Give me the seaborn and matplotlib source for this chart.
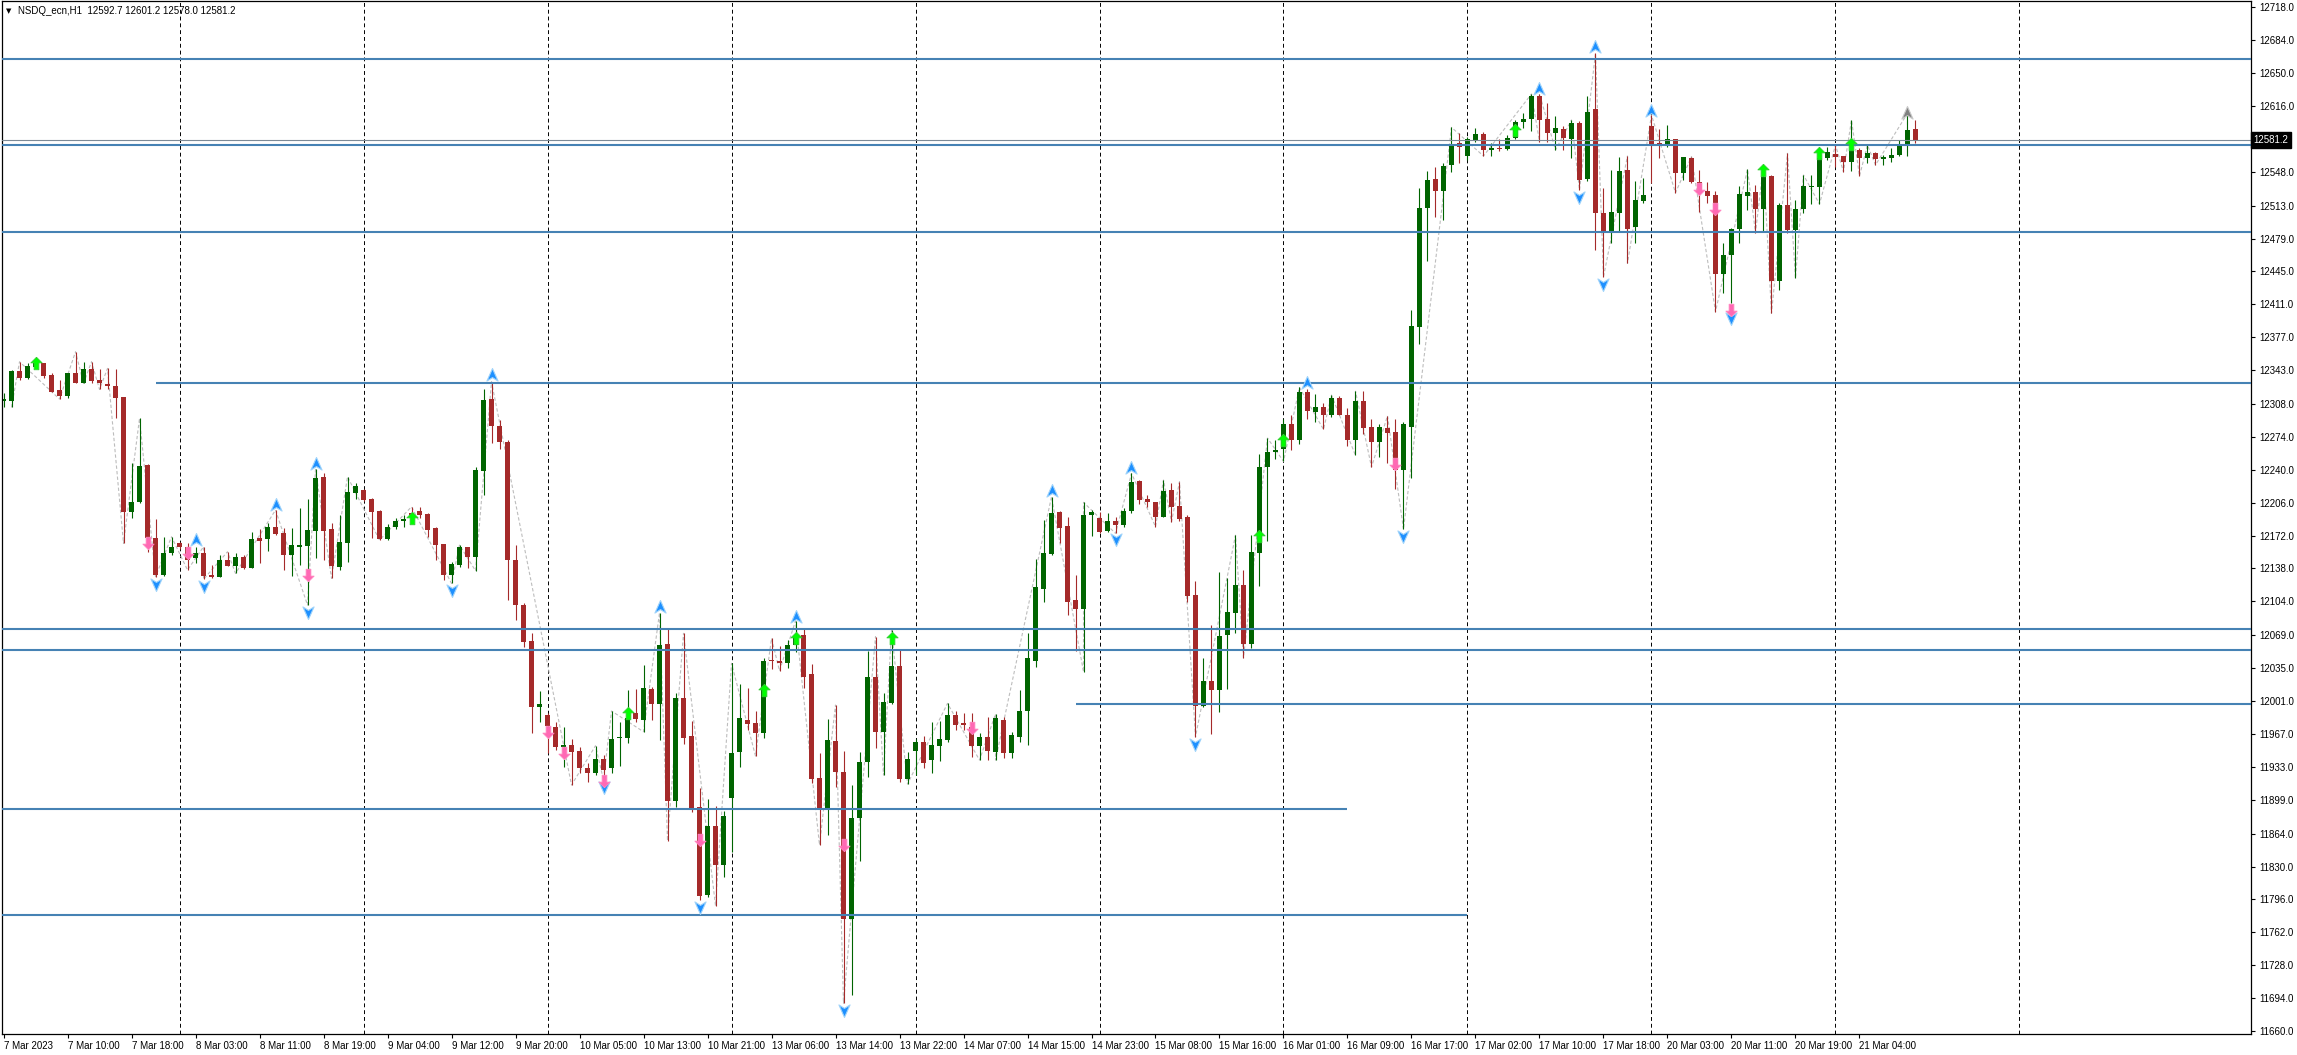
import numpy as np
import pandas as pd
import matplotlib
matplotlib.use("Agg")
import matplotlib.pyplot as plt
from matplotlib.path import Path
from matplotlib.transforms import blended_transform_factory
import seaborn as sns

# NSDQ_ecn H1 bars, 7 Mar 02:00 -> 21 Mar 11:00
opens = [
    12310.8, 12311.4, 12342.0, 12335.2, 12346.5, 12350.0, 12337.9, 12322.4, 12316.6, 12340.3,
    12330.0, 12343.8, 12332.8, 12328.6, 12326.6, 12314.8, 12196.7, 12207.0, 12244.9, 12169.1,
    12131.2, 12154.3, 12163.9, 12160.5, 12149.1, 12153.6, 12131.2, 12129.5, 12146.7, 12140.9,
    12150.2, 12138.8, 12169.1, 12168.1, 12181.2, 12174.3, 12151.9, 12160.5, 12161.2, 12176.7,
    12232.9, 12178.4, 12139.2, 12164.6, 12216.3, 12219.1, 12209.8, 12197.4, 12168.4, 12180.5,
    12187.0, 12195.6, 12197.4, 12193.9, 12179.5, 12162.9, 12131.2, 12141.6, 12159.8, 12150.2,
    12239.0, 12312.8, 12285.6, 12268.7, 12146.7, 12100.2, 12063.0, 11994.5, 11986.5, 11974.5,
    11953.8, 11955.5, 11949.3, 11932.1, 11926.3, 11941.1, 11931.5, 11962.5, 11962.5, 11988.3,
    11981.4, 12013.4, 11997.9, 12059.9, 11898.0, 12004.4, 11965.2, 11891.8, 11800.5, 11871.8,
    11831.5, 11901.1, 11948.6, 11981.4, 11978.0, 11968.3, 12042.7, 12042.4, 12040.0, 12058.9,
    12069.2, 12028.9, 11921.1, 11890.7, 11959.7, 11927.3, 11775.4, 11879.8, 11938.3, 12025.5,
    11969.3, 11999.3, 12037.2, 11920.4, 11949.7, 11958.3, 11940.0, 11954.8, 11960.7, 11986.5,
    11978.0, 11974.5, 11954.5, 11964.1, 11948.6, 11981.4, 11947.6, 11964.1, 11991.0, 12042.7,
    12116.8, 12152.9, 12196.7, 12181.9, 12105.4, 12096.1, 12193.2, 12190.5, 12176.7, 12187.0,
    12182.9, 12197.4, 12228.7, 12209.8, 12206.4, 12191.5, 12219.1, 12202.5, 12191.5, 12110.6,
    11996.2, 12021.7, 12012.4, 12069.0, 12092.0, 12120.9, 12059.7, 12154.3, 12242.8, 12258.1,
    12261.7, 12287.0, 12270.9, 12320.4, 12300.2, 12305.1, 12297.0, 12314.3, 12297.0, 12270.9,
    12311.1, 12284.2, 12268.9, 12283.0, 12278.9, 12240.0, 12284.2, 12387.6, 12510.1, 12540.2,
    12528.4, 12555.0, 12577.4, 12564.3, 12580.1, 12587.0, 12570.5, 12572.2, 12571.2, 12582.6,
    12599.7, 12602.2, 12626.3, 12602.2, 12588.4, 12592.2, 12581.5, 12598.1, 12540.2, 12612.5,
    12505.7, 12485.0, 12505.1, 12549.8, 12490.6, 12517.8, 12595.3, 12578.0, 12575.6, 12581.5,
    12546.4, 12561.9, 12537.7, 12528.4, 12524.0, 12442.3, 12462.0, 12488.8, 12523.2, 12526.8,
    12509.2, 12543.6, 12435.4, 12513.6, 12487.8, 12509.2, 12531.9, 12532.5, 12561.9, 12566.0,
    12564.3, 12558.4, 12570.5, 12561.9, 12567.1, 12561.5, 12562.5, 12565.3, 12575.6, 12592.7,
]
highs = [
    12318.9, 12343.1, 12351.7, 12350.0, 12351.7, 12350.7, 12339.6, 12332.8, 12340.3, 12362.0,
    12351.7, 12351.7, 12343.8, 12344.8, 12343.8, 12315.5, 12246.6, 12293.1, 12245.6, 12188.8,
    12170.8, 12170.8, 12165.7, 12163.9, 12160.5, 12160.5, 12141.6, 12151.9, 12155.3, 12153.6,
    12151.9, 12176.0, 12178.4, 12185.3, 12198.4, 12179.5, 12179.5, 12200.1, 12209.4, 12240.4,
    12237.0, 12185.3, 12193.2, 12232.9, 12226.0, 12219.8, 12210.5, 12198.1, 12183.6, 12189.8,
    12193.2, 12201.8, 12201.8, 12195.0, 12181.2, 12163.6, 12145.0, 12162.2, 12160.5, 12243.2,
    12323.1, 12331.0, 12291.4, 12270.8, 12162.2, 12102.3, 12071.0, 12011.7, 11988.6, 11979.6,
    11974.5, 11961.7, 11953.8, 11936.6, 11954.8, 11945.2, 11990.7, 11979.6, 12012.4, 12013.4,
    12038.2, 12015.5, 12092.3, 12076.2, 12009.0, 12071.0, 11980.3, 11910.8, 11899.4, 11892.5,
    11887.3, 12040.0, 12018.6, 12014.1, 11990.7, 12045.1, 12065.8, 12057.9, 12064.1, 12083.7,
    12075.1, 12039.3, 11947.0, 11982.1, 11996.9, 11949.3, 11914.2, 11948.0, 12053.0, 12067.5,
    12009.0, 12074.4, 12054.5, 11948.0, 11961.4, 11965.2, 11979.0, 11980.3, 11998.6, 11990.7,
    11988.9, 11988.3, 11967.6, 11984.8, 11987.6, 11984.8, 11969.3, 12012.4, 12071.0, 12147.5,
    12188.1, 12212.2, 12197.4, 12190.9, 12131.2, 12206.4, 12198.4, 12196.7, 12195.0, 12190.9,
    12200.8, 12236.3, 12229.4, 12213.9, 12207.0, 12229.4, 12226.0, 12227.7, 12193.2, 12125.4,
    12045.1, 12079.9, 12134.1, 12128.1, 12172.4, 12136.2, 12172.4, 12256.8, 12272.8, 12270.9,
    12293.0, 12297.0, 12325.1, 12323.2, 12318.3, 12309.1, 12317.2, 12316.3, 12303.8, 12321.2,
    12321.2, 12293.0, 12287.0, 12295.8, 12293.0, 12288.9, 12405.6, 12531.1, 12548.4, 12552.6,
    12556.7, 12593.9, 12587.7, 12584.2, 12592.9, 12589.4, 12578.0, 12581.5, 12586.0, 12601.5,
    12608.4, 12628.4, 12628.4, 12619.4, 12605.6, 12595.3, 12601.5, 12600.4, 12626.3, 12670.4,
    12530.9, 12549.8, 12563.6, 12564.3, 12538.4, 12541.2, 12606.6, 12592.2, 12596.3, 12581.8,
    12563.6, 12563.6, 12549.8, 12537.7, 12528.4, 12474.7, 12489.6, 12533.3, 12550.5, 12534.3,
    12555.0, 12544.6, 12515.4, 12567.1, 12518.8, 12544.6, 12544.6, 12573.9, 12573.9, 12575.6,
    12564.3, 12601.5, 12572.2, 12575.6, 12568.7, 12565.3, 12572.2, 12580.8, 12608.4, 12601.2,
]
lows = [
    12305.2, 12304.5, 12332.8, 12333.5, 12344.8, 12334.5, 12320.0, 12313.1, 12313.8, 12329.3,
    12329.3, 12329.3, 12323.1, 12323.1, 12293.8, 12163.9, 12189.8, 12206.0, 12155.3, 12129.5,
    12130.2, 12151.9, 12158.4, 12136.4, 12143.3, 12126.8, 12127.8, 12128.8, 12140.2, 12132.9,
    12137.1, 12138.1, 12143.3, 12156.0, 12172.9, 12136.4, 12130.2, 12141.6, 12100.2, 12148.4,
    12146.7, 12127.8, 12136.4, 12145.0, 12209.4, 12208.1, 12169.1, 12167.4, 12167.4, 12178.4,
    12181.2, 12186.3, 12189.8, 12170.8, 12146.7, 12126.1, 12122.6, 12139.8, 12138.1, 12135.7,
    12213.9, 12267.3, 12262.0, 12105.4, 12084.7, 12057.1, 11967.6, 11979.6, 11947.0, 11950.4,
    11933.1, 11914.2, 11926.9, 11917.6, 11924.5, 11919.4, 11926.9, 11933.8, 11957.3, 11979.6,
    11969.3, 11981.4, 11960.7, 11856.6, 11891.2, 11956.3, 11886.0, 11795.3, 11798.1, 11789.5,
    11819.4, 11845.3, 11932.5, 11971.0, 11944.2, 11962.5, 12033.8, 12032.3, 12034.8, 12051.7,
    12014.1, 11916.0, 11852.2, 11862.5, 11911.8, 11688.6, 11697.2, 11836.0, 11922.8, 11952.8,
    11924.5, 11997.9, 11917.6, 11915.2, 11924.5, 11931.5, 11926.3, 11939.0, 11959.0, 11971.0,
    11971.0, 11943.5, 11940.0, 11940.0, 11940.0, 11941.8, 11941.8, 11959.0, 11955.5, 12036.5,
    12103.6, 12151.9, 12164.0, 12089.9, 12053.0, 12031.3, 12171.5, 12175.0, 12176.0, 12174.3,
    12181.2, 12195.0, 12204.3, 12201.8, 12181.2, 12190.9, 12186.3, 12187.4, 12103.6, 11964.1,
    11994.5, 11966.9, 11989.3, 12013.5, 12071.8, 12045.7, 12055.8, 12120.1, 12166.4, 12250.8,
    12248.7, 12260.8, 12266.8, 12293.0, 12288.9, 12281.7, 12295.0, 12296.2, 12264.9, 12254.8,
    12277.0, 12242.8, 12252.8, 12246.8, 12220.6, 12178.4, 12231.9, 12370.2, 12455.9, 12500.9,
    12498.1, 12548.0, 12557.3, 12560.1, 12579.1, 12564.3, 12564.3, 12569.7, 12570.5, 12581.5,
    12592.9, 12590.4, 12579.1, 12579.1, 12570.5, 12570.5, 12561.9, 12529.1, 12538.7, 12467.1,
    12439.5, 12474.0, 12486.0, 12453.4, 12474.7, 12516.0, 12536.1, 12561.9, 12573.9, 12526.3,
    12539.5, 12536.1, 12506.7, 12515.4, 12403.4, 12423.0, 12412.0, 12474.0, 12508.5, 12485.0,
    12486.0, 12401.7, 12425.8, 12485.0, 12437.9, 12505.1, 12514.7, 12514.7, 12560.1, 12553.2,
    12548.0, 12549.1, 12543.6, 12556.7, 12555.0, 12555.0, 12558.4, 12564.3, 12564.3, 12578.0,
]
closes = [
    12312.8, 12342.0, 12335.2, 12347.2, 12350.0, 12337.2, 12320.7, 12316.6, 12339.6, 12330.0,
    12343.8, 12331.7, 12329.3, 12326.6, 12314.5, 12196.7, 12206.3, 12243.9, 12169.1, 12131.2,
    12153.6, 12159.8, 12159.8, 12146.7, 12153.6, 12130.2, 12129.5, 12146.7, 12140.9, 12150.2,
    12138.8, 12168.1, 12166.7, 12181.2, 12173.6, 12151.9, 12162.2, 12161.9, 12177.7, 12231.1,
    12176.7, 12140.9, 12165.3, 12216.7, 12223.2, 12208.7, 12196.7, 12168.1, 12180.5, 12187.4,
    12189.1, 12192.9, 12193.2, 12177.7, 12162.2, 12131.2, 12142.3, 12160.5, 12150.2, 12239.7,
    12312.1, 12285.6, 12268.7, 12146.7, 12100.2, 12062.3, 11995.1, 11997.6, 11975.5, 11953.8,
    11955.5, 11948.6, 11932.1, 11926.9, 11941.1, 11929.7, 11961.7, 11963.8, 11983.1, 11982.4,
    12014.8, 11997.6, 12058.9, 11898.0, 12004.4, 11963.1, 11890.1, 11799.5, 11871.8, 11831.5,
    11882.2, 11947.0, 11983.1, 11977.2, 11968.3, 12042.4, 12042.0, 12040.0, 12058.6, 12068.2,
    12026.1, 11920.4, 11890.7, 11960.7, 11928.0, 11775.4, 11879.8, 11937.7, 12025.5, 11969.3,
    12000.0, 12037.2, 11920.4, 11940.8, 11958.3, 11937.3, 11955.5, 11961.4, 11986.5, 11976.2,
    11976.5, 11954.8, 11964.1, 11949.7, 11983.1, 11947.6, 11965.9, 11991.0, 12045.1, 12119.1,
    12153.7, 12195.6, 12179.5, 12103.6, 12096.1, 12193.2, 12196.3, 12176.0, 12187.0, 12182.9,
    12197.4, 12227.7, 12208.8, 12207.0, 12191.5, 12218.1, 12201.8, 12188.8, 12109.5, 11996.2,
    12022.0, 12012.4, 12068.6, 12092.7, 12120.9, 12059.7, 12155.0, 12242.8, 12258.8, 12260.8,
    12287.0, 12270.9, 12320.4, 12301.0, 12305.1, 12297.0, 12314.0, 12297.0, 12270.9, 12311.1,
    12283.0, 12268.9, 12284.2, 12277.7, 12240.0, 12287.0, 12388.7, 12510.1, 12539.1, 12528.4,
    12554.3, 12576.4, 12573.9, 12581.5, 12586.7, 12570.5, 12572.2, 12571.2, 12582.6, 12599.7,
    12602.5, 12626.3, 12601.5, 12588.4, 12592.9, 12582.6, 12598.1, 12539.5, 12610.1, 12505.1,
    12485.0, 12506.1, 12549.1, 12488.8, 12518.8, 12524.0, 12576.7, 12576.7, 12581.5, 12546.4,
    12562.9, 12537.7, 12526.3, 12523.2, 12442.3, 12462.0, 12488.8, 12525.0, 12526.8, 12509.2,
    12542.9, 12435.4, 12513.6, 12487.8, 12509.2, 12533.3, 12533.3, 12561.9, 12568.7, 12563.6,
    12558.4, 12570.5, 12561.9, 12567.1, 12560.9, 12562.9, 12565.3, 12576.4, 12591.1, 12581.2,
]

# time axis labels, one every 8 bars
time_labels = [
    "7 Mar 2023", "7 Mar 10:00", "7 Mar 18:00", "8 Mar 03:00", "8 Mar 11:00", "8 Mar 19:00",
    "9 Mar 04:00", "9 Mar 12:00", "9 Mar 20:00", "10 Mar 05:00", "10 Mar 13:00", "10 Mar 21:00",
    "13 Mar 06:00", "13 Mar 14:00", "13 Mar 22:00", "14 Mar 07:00", "14 Mar 15:00", "14 Mar 23:00",
    "15 Mar 08:00", "15 Mar 16:00", "16 Mar 01:00", "16 Mar 09:00", "16 Mar 17:00", "17 Mar 02:00",
    "17 Mar 10:00", "17 Mar 18:00", "20 Mar 03:00", "20 Mar 11:00", "20 Mar 19:00", "21 Mar 04:00",
]
price_ticks = [11660, 11694, 11728, 11762, 11796, 11830, 11864, 11899, 11933, 11967, 12001,
               12035, 12069, 12104, 12138, 12172, 12206, 12240, 12274, 12308, 12343, 12377,
               12411, 12445, 12479, 12513, 12548, 12616, 12650, 12684, 12718]
day_start_bars = [22, 45, 68, 91, 114, 137, 160, 183, 206, 229, 252]

# support / resistance levels (nan = runs to the chart edge)
levels = [12665.0, 12576.0, 12486.0, 12329.4, 12075.4, 12053.7, 11997.9, 11889.4, 11780.2]
level_from = [np.nan, np.nan, np.nan, 19, np.nan, np.nan, 134, np.nan, np.nan]
level_to = [np.nan, np.nan, np.nan, np.nan, np.nan, np.nan, np.nan, 168, 183]

# indicator arrows
swing_high_bars = [24, 34, 39, 61, 82, 99, 131, 141, 163, 192, 199, 206]
swing_high_px = [12167.4, 12204.0, 12246.0, 12338.0, 12097.9, 12088.2, 12218.4, 12242.0,
                 12330.0, 12634.0, 12677.0, 12611.1]
swing_low_bars = [19, 25, 38, 56, 75, 87, 105, 139, 149, 175, 197, 200, 216]
swing_low_px = [12122.0, 12120.0, 12093.3, 12116.0, 11912.4, 11788.4, 11681.7, 12168.0,
                11957.0, 12172.0, 12522.2, 12432.0, 12396.5]
buy_bars = [4, 51, 78, 95, 99, 111, 157, 160, 189, 220, 227, 231]
buy_px = [12350.7, 12189.8, 11988.6, 12012.4, 12065.8, 12065.8, 12171.5, 12270.8,
          12591.2, 12549.8, 12567.9, 12577.0]
sell_bars = [18, 23, 38, 68, 70, 75, 87, 105, 121, 174, 212, 214, 216]
sell_px = [12164.0, 12153.7, 12131.3, 11969.0, 11947.0, 11918.4, 11857.4, 11852.5,
           11972.8, 12246.0, 12530.0, 12509.5, 12405.0]
pending_bars = [238]
pending_px = [12609.2]

BULL = "#006400"
BEAR = "#a52a2a"
LEVEL = "#4682b4"

sns.set_style("white")
plt.rcParams["font.family"] = ["Liberation Sans", "DejaVu Sans"]

fig = plt.figure(figsize=(22.97, 10.55), dpi=100)
W, H = 2297, 1055
ax = fig.add_axes([2 / W, 21 / H, 2249 / W, 1033 / H])

o = np.array(opens)
h = np.array(highs)
l = np.array(lows)
c = np.array(closes)
bars = np.arange(len(o))

xlo, xhi = -0.19, 280.94
ylo, yhi = 11656.9, 12724.5

# grid
for gb in day_start_bars:
    ax.axvline(gb, color="black", lw=0.7, linestyle=(0, (4, 3)), zorder=1)

# small-depth zigzag through local highs/lows of the bars
piv = []
for i in range(1, len(o) - 1):
    cand = []
    if h[i] >= h[i - 1] and h[i] >= h[i + 1]:
        cand.append(("H", h[i]))
    if l[i] <= l[i - 1] and l[i] <= l[i + 1]:
        cand.append(("L", l[i]))
    if len(cand) == 2 and piv and piv[-1][1] == "H":
        cand = cand[::-1]
    for kind, val in cand:
        if piv and piv[-1][1] == kind:
            better = val > piv[-1][2] if kind == "H" else val < piv[-1][2]
            if better:
                piv[-1] = (i, kind, val)
        else:
            piv.append((i, kind, val))
zz = pd.DataFrame({"bar": [p[0] for p in piv], "price": [p[2] for p in piv]})
sns.lineplot(data=zz, x="bar", y="price", ax=ax, color="#bdbdbd", lw=0.8, sort=False,
             estimator=None, linestyle=(0, (3, 2)), zorder=1.5)

# candles
col = np.where(c >= o, BULL, BEAR)
ax.vlines(bars, l, h, colors=col, lw=0.8, zorder=2)
ax.bar(bars, np.maximum(np.abs(c - o), 1.0), bottom=np.minimum(o, c), width=0.64,
       color=col, linewidth=0, zorder=2.1)

# levels
for lv, a, b in zip(levels, level_from, level_to):
    a = xlo if np.isnan(a) else a
    b = xhi if np.isnan(b) else b
    ax.hlines(lv, a, b, color=LEVEL, lw=1.5, zorder=3)

last_close = closes[-1]
ax.axhline(last_close, color="#7d8a96", lw=0.8, zorder=3)

# arrow markers
head_up = Path([(0, 1), (0.8, -0.8), (0, -0.3), (-0.8, -0.8), (0, 1)])
head_dn = Path([(0, -1), (0.8, 0.8), (0, 0.3), (-0.8, 0.8), (0, -1)])
arr_up = Path([(0, 1), (0.9, 0.1), (0.38, 0.1), (0.38, -1), (-0.38, -1), (-0.38, 0.1),
               (-0.9, 0.1), (0, 1)])
arr_dn = Path([(0, -1), (0.9, -0.1), (0.38, -0.1), (0.38, 1), (-0.38, 1), (-0.38, -0.1),
               (-0.9, -0.1), (0, -1)])

ax.plot(swing_high_bars, swing_high_px, ls="none", marker=head_up, ms=10,
        mfc="#1e90ff", mec="#9fd3fa", mew=0.8, zorder=5)
ax.plot(swing_low_bars, swing_low_px, ls="none", marker=head_dn, ms=10,
        mfc="#1e90ff", mec="#9fd3fa", mew=0.8, zorder=5)
ax.plot(buy_bars, buy_px, ls="none", marker=arr_up, ms=9,
        mfc="#00ff00", mec="#32cd32", mew=0.6, zorder=5)
ax.plot(sell_bars, sell_px, ls="none", marker=arr_dn, ms=9,
        mfc="#ff69b4", mec="#ff85c0", mew=0.6, zorder=5)
ax.plot(pending_bars, pending_px, ls="none", marker=head_up, ms=10,
        mfc="#808080", mec="#c8c8c8", mew=0.8, zorder=5)

ax.set_xlim(xlo, xhi)
ax.set_ylim(ylo, yhi)
ax.set_xlabel("")
ax.set_ylabel("")

# axes look
for s in ax.spines.values():
    s.set_visible(True)
    s.set_color("black")
    s.set_linewidth(0.9)

ax.set_xticks(np.arange(len(time_labels)) * 8)
ax.set_xticklabels(time_labels)
for lab in ax.get_xticklabels():
    lab.set_ha("left")
ax.yaxis.tick_right()
ax.set_yticks(price_ticks)
ax.set_yticklabels([f"{v:.1f}" for v in price_ticks])
ax.tick_params(axis="x", bottom=True, length=3, width=0.8, pad=2, labelsize=7,
               colors="black", direction="out")
ax.tick_params(axis="y", right=True, left=False, labelright=True, labelleft=False,
               length=3, width=0.8, pad=3, labelsize=7, colors="black", direction="out")

# last price tag
trans = blended_transform_factory(ax.transAxes, ax.transData)
ax.text(1.0012, last_close, f"{last_close:.1f}", transform=trans, ha="left", va="center",
        color="white", fontsize=7, clip_on=False, zorder=10,
        bbox=dict(boxstyle="square,pad=0.3", fc="black", ec="black"))

# header
fig.text(6 / W, 1 - 11 / H, "▼", fontsize=5, color="black", va="center",
         family=["DejaVu Sans"])
fig.text(18 / W, 1 - 11 / H, "NSDQ_ecn,H1  12592.7 12601.2 12578.0 12581.2",
         fontsize=7, color="black", va="center")

fig.savefig("out.png", dpi=100)
